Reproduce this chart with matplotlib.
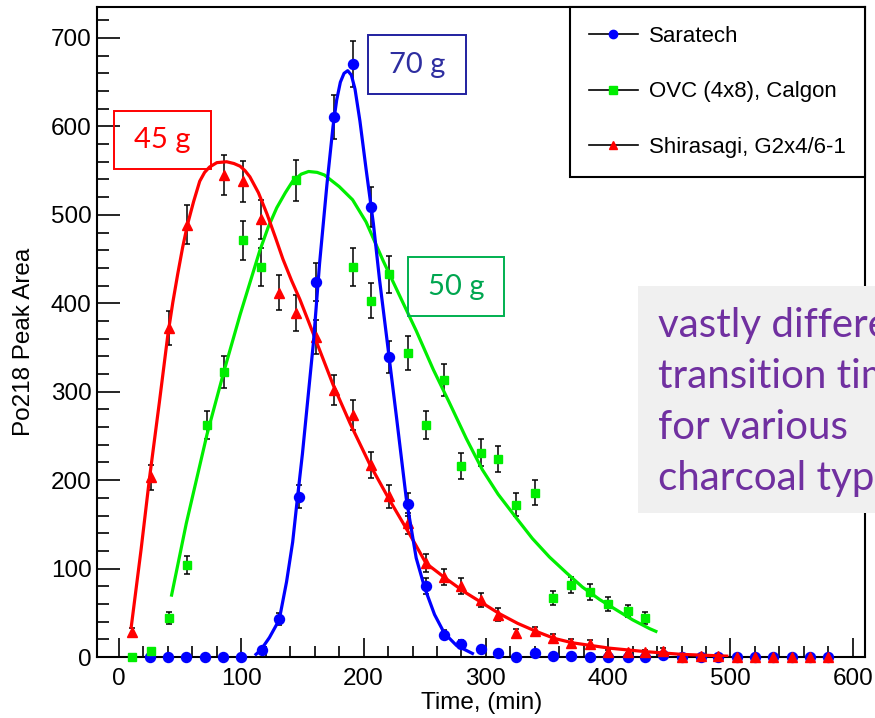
import numpy as np
import matplotlib
matplotlib.use('Agg')
from matplotlib import pyplot as plt
from matplotlib.lines import Line2D
from matplotlib.patches import Rectangle

# Saratech (puntos)
saratech_t = [25, 40, 55, 70, 85, 100, 117, 131, 147, 161, 176, 191, 206, 221, 236, 251, 266, 280, 296,
              310, 325, 340, 355, 370, 385, 400, 416, 430, 445, 460, 476, 490, 505, 520, 535, 550, 565, 580]
saratech_y = [0, 0, 0, 0, 0, 0, 8, 43, 181, 424, 611, 671, 509, 339, 173, 80, 25, 15, 9,
              5, 0, 5, 1, 1, 0, 0, 0, 0, 2, 0, 0, 0, 0, 0, 0, 0, 0, 0]
saratech_err = [0, 0, 0, 0, 0, 0, 3, 7, 13, 21, 25, 26, 23, 18, 13, 9, 5, 4, 3,
                2, 0, 2, 1, 1, 0, 0, 0, 0, 1, 0, 0, 0, 0, 0, 0, 0, 0, 0]

# OVC (4x8), Calgon
ovc_t = [11, 26, 41, 56, 72, 86, 101, 116, 145, 191, 206, 221, 236, 251, 266, 280, 296, 310, 325,
         340, 355, 370, 385, 400, 416, 430]
ovc_y = [0, 7, 44, 104, 262, 322, 471, 441, 539, 441, 403, 433, 344, 262, 313, 216, 231, 224, 172,
         186, 67, 81, 73, 60, 52, 44]
ovc_err = [0, 3, 7, 10, 16, 18, 22, 21, 23, 21, 20, 21, 19, 16, 18, 15, 15, 15, 13,
           14, 8, 9, 9, 8, 7, 7]

# Shirasagi, G2x4/6-1
shira_t = [11, 26, 41, 56, 86, 101, 116, 131, 145, 161, 176, 191, 206, 221, 236, 251, 266, 280, 296,
           310, 325, 340, 355, 370, 385, 400, 416, 430, 445, 460, 476, 490, 505, 520, 535, 550, 565, 580]
shira_y = [28, 203, 372, 489, 545, 538, 495, 412, 389, 362, 302, 274, 217, 182, 151, 106, 90, 80, 64,
           48, 27, 29, 21, 16, 15, 6, 6, 6, 7, 0, 1, 1, 0, 0, 0, 0, 0, 0]
shira_err = [5, 14, 19, 22, 23, 23, 22, 20, 20, 19, 17, 17, 15, 13, 12, 10, 9, 9, 8,
             7, 5, 5, 5, 4, 4, 2, 2, 2, 3, 0, 1, 1, 0, 0, 0, 0, 0, 0]

# Curvas de ajuste
saratech_fit_t = [112, 116, 123, 131, 137, 142, 146, 150, 155, 159, 164, 170, 175, 178, 181, 184, 187,
                  190, 193, 197, 202, 208, 213, 219, 227, 235, 243, 250, 258, 266, 276, 289]
saratech_fit_y = [3, 8, 22, 42, 85, 130, 181, 230, 300, 356, 445, 534, 600, 630, 650, 660, 663,
                  658, 642, 606, 552, 490, 427, 360, 270, 178, 112, 78, 48, 27, 13, 4]

ovc_fit_t = [43, 55, 72, 86, 99, 115, 122, 129, 136, 142, 149, 155, 162, 168, 180, 191, 202, 216, 230,
             243, 257, 270, 284, 297, 310, 325, 338, 352, 366, 379, 393, 407, 420, 434, 439]
ovc_fit_y = [70, 151, 252, 324, 387, 459, 486, 508, 525, 538, 546, 549, 548, 545, 532, 517, 492, 448, 407,
             369, 325, 288, 247, 212, 184, 157, 134, 113, 95, 79, 65, 53, 42, 32, 29]

shira_fit_t = [10, 18, 25, 33, 40, 44, 48, 52, 56, 61, 66, 70, 74, 80, 88, 94, 99, 103, 107, 114, 121,
               128, 134, 141, 148, 161, 175, 189, 205, 221, 238, 251, 268, 282, 296, 311, 326, 341, 356,
               371, 386, 401, 431, 460, 497]
shira_fit_y = [34, 121, 203, 288, 365, 401, 433, 463, 489, 515, 538, 548, 554, 559, 560, 558, 555, 550, 543,
               525, 501, 474, 450, 426, 404, 358, 308, 264, 218, 178, 138, 106, 88, 74, 62, 49, 38, 29, 21,
               16, 13, 10, 6, 3, 1]

W, H = 875, 718
fig = plt.figure(figsize=(W / 100, H / 100), dpi=100)
ax = fig.add_axes([97 / W, 1 - 657 / H, (865 - 97) / W, (657 - 7) / H])

def dibujar(t, y, err, color, marker, ms, z):
	t = np.array(t)
	y = np.array(y)
	err = np.array(err)
	m = err > 0
	ax.errorbar(t[m], y[m], yerr=err[m], fmt='none', ecolor='black', elinewidth=1.1,
	            capsize=2.5, capthick=1.1, zorder=2)
	ax.plot(t, y, linestyle='none', marker=marker, color=color, ms=ms, zorder=z, clip_on=False)

dibujar(saratech_t, saratech_y, saratech_err, '#0000ff', 'o', 7.2, 3)
dibujar(ovc_t, ovc_y, ovc_err, '#00ee00', 's', 6.2, 3.1)
dibujar(shira_t, shira_y, shira_err, '#ff0000', '^', 6.8, 3.2)

ax.plot(ovc_fit_t, ovc_fit_y, color='#00ee00', lw=2.3, zorder=4, solid_joinstyle='round')
ax.plot(shira_fit_t, shira_fit_y, color='#ff0000', lw=2.3, zorder=4.1, solid_joinstyle='round')
ax.plot(saratech_fit_t, saratech_fit_y, color='#0000ff', lw=2.3, zorder=4.2, solid_joinstyle='round')

ax.set_xlim(-18, 610)
ax.set_ylim(0, 735)
ax.set_xticks(np.arange(0, 601, 100))
ax.set_xticks(np.arange(0, 601, 20), minor=True)
ax.set_yticks(np.arange(0, 701, 100))
ax.set_yticks(np.arange(0, 721, 20), minor=True)
for lab in ax.get_xticklabels() + ax.get_yticklabels():
	lab.set_fontfamily('Liberation Sans')
ax.tick_params(which='both', direction='in', top=False, right=False, width=1.2, labelsize=17.5)
ax.tick_params(axis='x', which='major', length=13.5, pad=8)
ax.tick_params(axis='x', which='minor', length=8)
ax.tick_params(axis='y', which='major', length=16.5, pad=4)
ax.tick_params(axis='y', which='minor', length=8.5)
for s in ax.spines.values():
	s.set_linewidth(1.5)

fig.text(482 / W, 1 - 703 / H, 'Time, (min)', ha='center', va='center', fontsize=17.5,
         family='Liberation Sans')
fig.text(24 / W, 1 - 342 / H, 'Po218 Peak Area', ha='center', va='center', rotation=90,
         fontsize=17.5, family='Liberation Sans')

handles = [
	Line2D([0], [0], color='black', lw=1.2, marker='o', ms=6, mfc='#0000ff', mec='#0000ff'),
	Line2D([0], [0], color='black', lw=1.2, marker='s', ms=5.5, mfc='#00ee00', mec='#00ee00'),
	Line2D([0], [0], color='black', lw=1.2, marker='^', ms=6, mfc='#ff0000', mec='#ff0000'),
]
leg = ax.legend(handles, ['Saratech', 'OVC (4x8), Calgon', 'Shirasagi, G2x4/6-1'],
                loc='upper right', bbox_to_anchor=(1, 1), borderaxespad=0, fancybox=False,
                framealpha=1, edgecolor='black', prop={'family': 'Liberation Sans', 'size': 16},
                handlelength=2.2, handletextpad=0.52, labelspacing=1.55, borderpad=0.85)
leg.get_frame().set_linewidth(1.5)

def caja(x0, y0, x1, y1, texto, color_borde, color_texto):
	fig.add_artist(Rectangle((x0 / W, 1 - y1 / H), (x1 - x0) / W, (y1 - y0) / H,
	                         transform=fig.transFigure, fill=False, ec=color_borde, lw=1.4))
	fig.text((x0 + x1) / 2 / W, 1 - (y0 + y1) / 2 / H, texto, ha='center', va='center',
	         color=color_texto, fontsize=21, family='Lato')

caja(114, 111, 211, 169, '45 g', '#ff0000', '#ff0000')
caja(368, 35, 466, 94, '70 g', '#2020a0', '#2e2ea0')
caja(408, 257, 504, 316, '50 g', '#00b050', '#00a650')

fig.add_artist(Rectangle((638 / W, 1 - 513 / H), (W - 638) / W, (513 - 286) / H,
                         transform=fig.transFigure, fc='#f0f0f0', ec='none', zorder=5))
lineas = ['vastly different', 'transition times', 'for various', 'charcoal types']
for i, linea in enumerate(lineas):
	fig.text(658 / W, 1 - (337 + 51 * i) / H, linea, ha='left', va='baseline',
	         color='#7030a0', fontsize=29, family='Lato', zorder=6)

fig.savefig('out.png', dpi=100)
